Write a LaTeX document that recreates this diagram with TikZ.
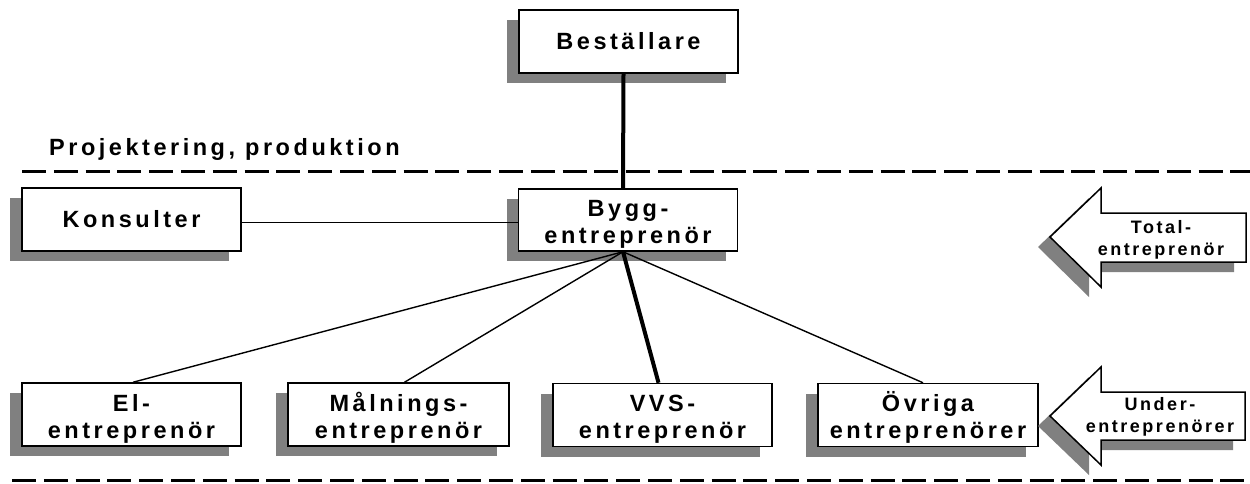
\documentclass[tikz,border=0pt]{standalone}
\usepackage{fontspec}
\setmainfont{Liberation Sans}
\newfontfamily\spfont{Liberation Sans}[LetterSpace=15]
\newfontfamily\spfontb{Liberation Sans}[LetterSpace=14]
\usetikzlibrary{shadows,calc}
\definecolor{shad}{RGB}{128,128,128}
\begin{document}
\begin{tikzpicture}[x=1pt,y=-1pt,
  myshadow/.style={drop shadow={shadow xshift=-12pt,shadow yshift=-10pt,fill=shad,opacity=1}},
  boxstyle/.style={draw,fill=white,line width=1.5pt,minimum width=219pt,minimum height=63pt,
    inner sep=0pt,align=center,myshadow,
    font=\spfont\bfseries\fontsize{23.5}{27}\selectfont},
  twoline/.style={text height=47.6pt,text depth=0pt},
  arrowshape/.style={draw,fill=white,line width=1.5pt,line join=miter,myshadow},
  arrowtext/.style={inner sep=0pt,align=center,text height=34pt,text depth=0pt,
    font=\spfontb\bfseries\fontsize{18}{21.5}\selectfont},
  thinline/.style={line width=1.4pt},
  thickline/.style={line width=4pt},
  dashline/.style={line width=3pt,dash pattern=on 24pt off 7.8pt}]
\useasboundingbox (0,0) rectangle (1250,483);

% separators
\draw[dashline] (22,171.5) -- (1250,171.5);
\draw[dashline] (12,480) -- (1250,480);
\node[anchor=base west,inner sep=0pt,font=\spfont\bfseries\fontsize{23.5}{27}\selectfont] (proj) at (49,155) {Projektering, produktion};

% boxes
\node[boxstyle] (bes) at (628.5,41.5) {Beställare};
\node[boxstyle,twoline,minimum height=62pt] (byg) at (628,220) {Bygg-\\entreprenör};
\node[boxstyle] (kon) at (131.5,219.5) {Konsulter};
\node[boxstyle,twoline] (el) at (131.5,414.5) {El-\\entreprenör};
\node[boxstyle,twoline,minimum width=221pt] (mal) at (398.5,414.5) {Målnings-\\entreprenör};
\node[boxstyle,twoline] (vvs) at (662.5,415) {VVS-\\entreprenör};
\node[boxstyle,twoline,minimum width=220pt] (ovr) at (928,415) {Övriga\\entreprenörer};

% connectors
\draw[thickline] ([xshift=-5pt]bes.south) -- ([xshift=-5pt]byg.north);
\draw[thinline] ([yshift=-3pt]kon.east) -- ([yshift=-3pt]kon.east -| byg.west);
\coordinate (hub) at ([xshift=-5pt]byg.south);
\draw[thinline] (hub) -- ([xshift=1.5pt]el.north);
\draw[thinline] (hub) -- ([xshift=6pt]mal.north);
\draw[thickline] (hub) -- ([xshift=-4pt]vvs.north);
\draw[thinline] (hub) -- ([xshift=-5pt]ovr.north);

% side arrows
\filldraw[arrowshape] (1050,237) -- (1101,188) -- (1101,213) -- (1246,213) -- (1246,262)
  -- (1101,262) -- (1101,287) -- cycle;
\node[arrowtext] (tot) at (1161,238) {Total-\\entreprenör};
\filldraw[arrowshape] (1050,416) -- (1101,367) -- (1101,392) -- (1245,392) -- (1245,440)
  -- (1101,440) -- (1101,465) -- cycle;
\node[arrowtext] (und) at (1160,415) {Under-\\entreprenörer};
\end{tikzpicture}
\end{document}
